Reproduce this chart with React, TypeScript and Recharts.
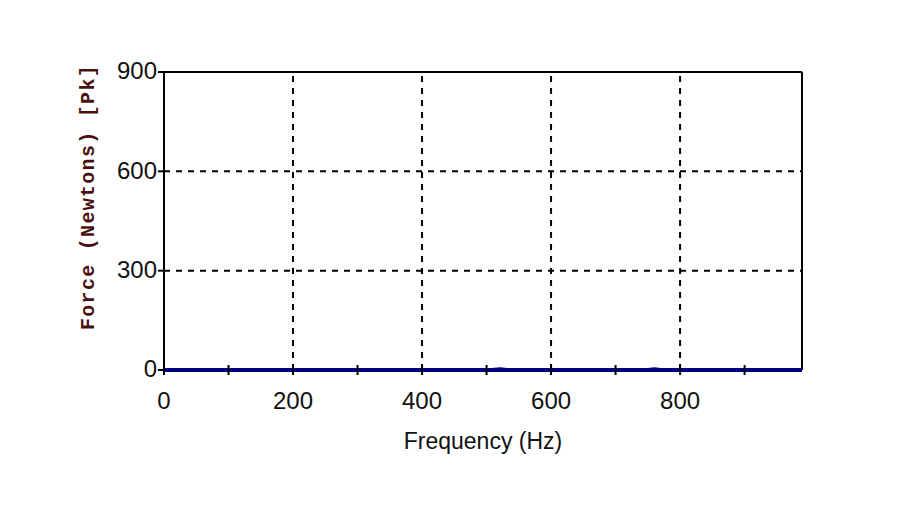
import { Line, LineChart, ReferenceLine, XAxis, YAxis } from "recharts";

const frequencyHz = [0, 100, 200, 300, 400, 508, 521, 532, 650, 750, 760, 770, 900, 989];
const forceN = [0, 0, 0, 0, 0, 0, 2, 0, 0, 0, 2, 0, 0, 0];
const xTicks = [0, 100, 200, 300, 400, 500, 600, 700, 800, 900];
const xGrid = [200, 400, 600, 800];
const yTicks = [0, 300, 600, 900];
const yGrid = [300, 600];
const X_MAX = 989;

const data = frequencyHz.map((f, i) => ({ f, force: forceN[i] }));

const sans = "'Liberation Sans', Arial, sans-serif";

function XTick({ x, y, payload }: any) {
  const major = payload.value % 200 === 0;
  return (
    <g>
      <line x1={x} x2={x} y1={y - 5} y2={y + 5} stroke="#000" strokeWidth={2} />
      {major && (
        <text x={x} y={y + 33} textAnchor="middle" dominantBaseline="middle" fontSize={24} fontFamily={sans} fill="#111">
          {payload.value}
        </text>
      )}
    </g>
  );
}

function YTick({ x, y, payload }: any) {
  return (
    <g>
      <line x1={x - 6} x2={x} y1={y} y2={y} stroke="#000" strokeWidth={2} />
      <text x={x - 7} y={y + 1} textAnchor="end" dominantBaseline="middle" fontSize={24} fontFamily={sans} fill="#111">
        {payload.value}
      </text>
    </g>
  );
}

export default function App() {
  return (
    <div style={{ width: 911, height: 497, background: "#fff" }}>
      <LineChart width={911} height={497} data={data} margin={{ top: 64, right: 117, bottom: 95, left: 96 }}>
        <XAxis
          type="number"
          dataKey="f"
          domain={[0, X_MAX]}
          ticks={xTicks}
          tickSize={0}
          tickMargin={0}
          tickLine={false}
          height={40}
          axisLine={false}
          tick={<XTick />}
          interval={0}
          label={{
            content: ({ viewBox }: any) => (
              <text x={viewBox.x + viewBox.width / 2} y={viewBox.y + 73} textAnchor="middle" dominantBaseline="middle" fontSize={23} fontFamily={sans} fill="#111">
                Frequency (Hz)
              </text>
            ),
          }}
        />
        <YAxis
          type="number"
          domain={[0, 900]}
          ticks={yTicks}
          width={60}
          tickSize={0}
          tickMargin={0}
          tickLine={false}
          axisLine={{ stroke: "#000", strokeWidth: 2 }}
          tick={<YTick />}
          interval={0}
          label={{
            content: ({ viewBox }: any) => {
              const cx = viewBox.x - 15;
              const cy = viewBox.y + viewBox.height / 2 - 24;
              return (
                <text
                  x={cx}
                  y={cy}
                  transform={`rotate(-90 ${cx} ${cy})`}
                  textAnchor="middle"
                  dominantBaseline="middle"
                  fontSize={20}
                  letterSpacing={1.3}
                  fontWeight="bold"
                  fontFamily="'Liberation Mono', 'Courier New', monospace"
                  fill="#4a1010"
                >
                  Force (Newtons) [Pk]
                </text>
              );
            },
          }}
        />
        {xGrid.map((v) => (
          <ReferenceLine key={`gx${v}`} x={v} stroke="#000" strokeWidth={2} strokeDasharray="6 6" />
        ))}
        {yGrid.map((v) => (
          <ReferenceLine key={`gy${v}`} y={v} stroke="#000" strokeWidth={2} strokeDasharray="6 6" />
        ))}
        <ReferenceLine y={900} stroke="#000" strokeWidth={2} />
        <ReferenceLine x={X_MAX} stroke="#000" strokeWidth={2} />
        <ReferenceLine y={0} stroke="#000080" strokeWidth={4} />
        <Line type="linear" dataKey="force" stroke="#000080" strokeWidth={4} dot={false} isAnimationActive={false} />
      </LineChart>
    </div>
  );
}
